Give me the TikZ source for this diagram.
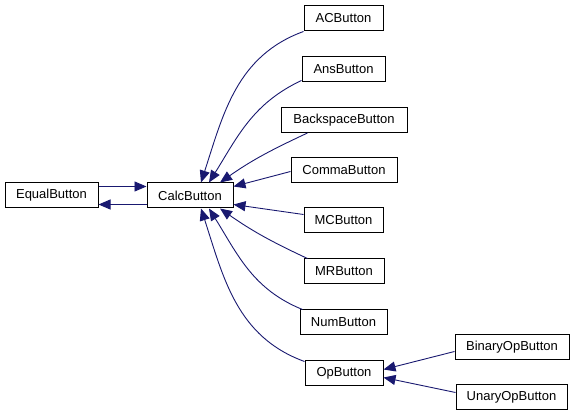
\documentclass[tikz,border=0pt]{standalone}
\usepackage{fontspec}
\setmainfont{Liberation Sans}
\usepackage{xcolor}
\usepackage{tikz}
\usetikzlibrary{arrows.meta,positioning,calc}
\definecolor{Edge}{HTML}{191970}
\definecolor{Ink}{HTML}{000000}

\tikzset{
  cls/.style={draw=Ink, line width=1pt, fill=white, minimum height=25pt, inner sep=2pt,
    font=\fontsize{13}{15}\selectfont},
  inh/.style={draw=Edge, line width=0.9pt, -{Triangle[length=12pt,width=10pt]}}
}

\begin{document}
\begin{tikzpicture}[x=1pt,y=1pt]
  \useasboundingbox (0,0) rectangle (575,417);
  % classes
  \node[cls, minimum width=93pt] (equal) at (51.5,221.5) {EqualButton};
  \node[cls, minimum width=86pt] (calc) at (190,221.5) {CalcButton};
  \node[cls, minimum width=79pt] (ac) at (343.5,398.5) {ACButton};
  \node[cls, minimum width=83pt] (ans) at (343.5,347.5) {AnsButton};
  \node[cls, minimum width=126pt] (back) at (344,297) {BackspaceButton};
  \node[cls, minimum width=106pt] (comma) at (344,246.5) {CommaButton};
  \node[cls, minimum width=79pt] (mc) at (343.5,196.5) {MCButton};
  \node[cls, minimum width=80pt] (mr) at (344,145.5) {MRButton};
  \node[cls, minimum width=87pt] (num) at (343.5,94.5) {NumButton};
  \node[cls, minimum width=78pt] (op) at (344,43.5) {OpButton};
  \node[cls, minimum width=114pt] (binop) at (512,69.5) {BinaryOpButton};
  \node[cls, minimum width=111pt] (unop) at (511.5,19.5) {UnaryOpButton};
  % inheritance
  \draw[inh] ([yshift=9pt]equal.east) -- ([yshift=9pt]calc.west);
  \draw[inh] ([yshift=-9pt]calc.west) -- ([yshift=-9pt]equal.east);
  \draw[inh] (ac.south west) to[out=200, in=72] ([xshift=11pt]calc.north);
  \draw[inh] ([yshift=2pt]ans.south west) to[out=205, in=58] ([xshift=19pt]calc.north);
  \draw[inh] ([xshift=27pt]back.south west) to[out=205, in=35] ([xshift=30pt]calc.north);
  \draw[inh] ([yshift=-1pt]comma.west) -- ([yshift=9pt]calc.east);
  \draw[inh] ([yshift=6pt]mc.west) -- ([yshift=-9pt]calc.east);
  \draw[inh] ([xshift=4pt]mr.north west) to[out=155, in=-35] ([xshift=30pt]calc.south);
  \draw[inh] ([xshift=3pt]num.north west) to[out=158, in=-58] ([xshift=19pt]calc.south);
  \draw[inh] ([yshift=-1pt]op.north west) to[out=160, in=-72] ([xshift=11pt]calc.south);
  \draw[inh] ([yshift=-4pt]binop.west) -- ([yshift=4pt]op.east);
  \draw[inh] ([yshift=5pt]unop.west) -- ([yshift=-4pt]op.east);
\end{tikzpicture}
\end{document}
